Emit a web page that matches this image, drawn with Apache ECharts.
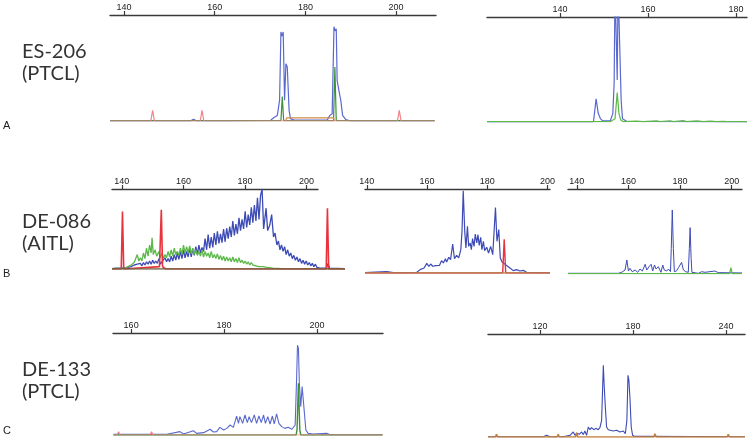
<!DOCTYPE html>
<html>
<head>
<meta charset="utf-8">
<title>GeneScan profiles</title>
<script src="https://cdn.jsdelivr.net/npm/echarts@6/dist/echarts.min.js"></script>
<style>
  html, body { margin: 0; padding: 0; background: #fff; }
  #chart { width: 750px; height: 440px; }
</style>
</head>
<body>
<div id="chart"></div>
<script>
// --- tick labels (bp) ---
const aLeftTicks = [140, 160, 180, 200];
const aRightTicks = [140, 160, 180];
const bLeftTicks = [140, 160, 180, 200];
const bMidTicks = [140, 160, 180, 200];
const bRightTicks = [140, 160, 180, 200];
const cLeftTicks = [160, 180, 200];
const cRightTicks = [120, 180, 240];

// --- traces: [size in bp, relative fluorescence 0-100] ---
// A  ES-206 (PTCL)
const aLeftBlue = [[136.9,0],[154.6,0],[155.3,1.6],[156.1,0],[162.2,0],[162.6,0.6],[163,0],[172.3,0.6],[173.0,3.1],[173.8,5.3],[174.3,19.5],[174.6,84],[174.85,80],[175.1,84],[175.4,19.5],[175.7,54],[176.0,51],[176.4,10],[176.7,2.2],[177.5,0.8],[184.8,0.8],[185.4,5.3],[185.9,6.9],[186.3,89],[186.55,85],[186.8,87],[187.0,38],[187.5,26],[187.8,19.5],[188.2,5.3],[188.9,1.3],[190.0,0],[208.5,0]];
const aLeftGreen = [[136.9,0.3],[174.6,0.3],[174.9,23],[175.2,0.3],[186.2,0.3],[186.5,51],[186.8,0.3],[208.5,0.3]];
const aLeftRed = [[136.9,0],[145.9,0],[146.3,10],[146.7,0],[156.8,0],[157.2,10],[157.6,0],[200.3,0],[200.7,10],[201.1,0],[208.5,0]];
const aLeftOrange = [[175.6,0],[175.9,3],[186.2,3],[186.4,0]];
const aRightBlue = [[123.4,0],[147.6,0],[147.7,1.6],[148.2,22],[148.7,8],[149.2,3],[149.8,1],[151.4,1],[152.0,8],[152.3,37],[152.5,130],[152.7,130],[153.0,40],[153.2,130],[153.6,130],[153.9,20],[154.2,3],[155.2,0.5],[182.5,0]];
const aRightGreen = [[123.4,0.3],[151.4,0.3],[151.7,1.5],[152.5,3],[153.0,28],[153.4,8],[153.8,2],[154.4,0.3],[157.4,0.8],[158.9,0.3],[162.0,1],[162.7,0.3],[165.0,1.2],[165.8,0.3],[168.0,1.3],[168.8,0.3],[171.1,1],[172.6,0.3],[174.1,0.9],[175.6,0.3],[177.1,0.6],[177.9,0.3],[182.5,0.3]];

// B  DE-086 (AITL)
const bLeftBlue = [[136.8,0.5],[138,1],[140,1],[142,2],[143,3],[143.5,2],[144,5],[144.5,3],[145,6],[145.5,4],[146,7],[146.5,4],[147,8],[147.5,5],[148,9],[148.5,6],[149,10],[149.5,6],[150,11],[150.5,7],[151,10],[151.5,7],[152,13],[152.5,6],[153,9],[153.5,7],[154,14],[154.5,9],[155,13],[155.5,9],[156,16],[156.5,10],[157,18],[157.5,11],[158,20],[158.5,12],[159,22],[159.5,13],[160,24],[160.5,14],[161,22],[161.5,15],[162,26],[162.5,15],[163,25],[163.5,17],[164,28],[164.5,18],[165,30],[165.5,20],[166,27],[166.5,22],[167,38],[167.5,24],[168,43],[168.5,26],[169,40],[169.5,27],[170,45],[170.5,30],[171,47],[171.5,32],[172,44],[172.5,33],[173,50],[173.5,34],[174,51],[174.5,38],[175,53],[175.5,40],[176,60],[176.5,42],[177,56],[177.5,44],[178,64],[178.5,48],[179,62],[179.5,50],[180,72],[180.5,52],[181,68],[181.5,55],[182,77],[182.5,58],[183,80],[183.5,60],[184,89],[184.5,62],[185,92],[185.5,100],[186,50],[186.8,76],[187.3,48],[188,55],[188.6,68],[189.2,40],[189.7,45],[190.3,30],[190.8,35],[191.3,24],[191.8,30],[192.3,22],[192.8,28],[193.3,18],[193.8,24],[194.3,16],[194.8,20],[195.3,13],[195.8,17],[196.3,11],[196.8,15],[197.3,9],[197.8,13],[198.3,7],[198.8,11],[199.3,6],[199.8,10],[200.3,5],[200.8,8],[201.3,4],[201.8,7],[202.3,3],[202.8,6],[203.3,2],[203.8,3],[204.3,1],[206.4,1],[206.9,7],[207.4,1],[212.4,0.5]];
const bLeftGreen = [[136.8,0.5],[141,1],[142,3],[142.5,2],[143,5],[143.5,4],[144,8],[144.5,6],[145,18],[145.5,10],[146,14],[146.5,10],[147,20],[147.5,13],[148,26],[148.5,16],[149,30],[149.5,20],[149.8,39],[150.2,18],[150.8,24],[151.3,16],[152,22],[152.5,14],[153,20],[153.5,13],[154,18],[154.5,14],[155,22],[155.5,15],[156,24],[156.5,16],[157,26],[157.5,18],[158,22],[158.5,17],[159,26],[159.5,18],[160,30],[160.5,20],[161,28],[161.5,20],[162,29],[162.5,19],[163,26],[163.5,18],[164,24],[164.5,17],[165,22],[165.5,16],[166,24],[166.5,15],[167,22],[167.5,16],[168,20],[168.5,14],[169,22],[169.5,14],[170,18],[170.5,13],[171,19],[171.5,12],[172,17],[172.5,11],[173,16],[173.5,10],[174,15],[174.5,10],[175,14],[175.5,9],[176,15],[176.5,9],[177,13],[177.5,8],[178,14],[178.5,8],[179,11],[179.5,7],[180,10],[180.5,6],[181,9],[181.5,5],[182,8],[182.5,5],[183,7],[183.5,4],[184,6],[184.5,3],[185,5],[186,3],[187,2],[189,1],[192,0.5],[212.4,0.5]];
const bLeftRed = [[136.8,0],[139.8,0],[140.2,72],[140.6,0],[152.2,3],[152.8,74],[153.2,3],[153.6,5],[154.2,0],[206.3,0],[206.7,76],[207.1,0],[212.4,0]];
const bLeftBase = [[136.8,0],[212.4,0]];
const bMidBlue = [[139.4,0.4],[141.1,0.8],[146.6,1.6],[148.8,0.4],[156.6,0.8],[157.7,4],[159.0,6],[159.9,11.5],[160.6,8],[161.2,10.7],[161.9,8],[162.8,8.7],[163.4,10.7],[164.1,9],[164.8,14.7],[165.4,12],[166.1,17],[166.5,13],[167.2,18.7],[167.8,16],[168.5,34.5],[169.1,17],[169.8,21],[170.5,17.9],[171.2,27.8],[171.6,49.6],[172.0,98],[172.5,49.6],[172.9,29.8],[173.4,55.6],[173.8,31.7],[174.3,35.7],[174.7,27.8],[175.1,40.9],[175.6,31.7],[176.0,46.4],[176.5,35.7],[176.9,45.6],[177.3,32.9],[177.8,42.5],[178.2,27.8],[178.7,37.7],[179.1,26.6],[179.8,30.6],[180.4,23.8],[181.1,31.7],[181.8,21.8],[182.7,78],[183.2,37.7],[183.8,51.6],[184.3,17.9],[184.9,13],[185.5,10.7],[186.4,9],[187.5,6],[188.6,2.8],[189.7,4],[190.8,2.4],[191.9,3.2],[193.0,0.8],[200.8,0.4]];
const bMidRed = [[139.4,0],[185.1,0],[185.6,40],[186.1,0],[200.8,0]];
const bMidBase = [[139.4,0],[200.8,0]];
const bRightBlue = [[136.6,0.8],[156.1,0.8],[157.4,2],[158.7,4.7],[159.4,16.5],[160.0,3.5],[160.6,6.7],[161.5,2.7],[162.6,4.7],[163.6,2],[164.5,5.9],[165.4,3.5],[166.5,11.4],[167.1,4.7],[168.0,8.6],[168.8,11.4],[169.4,3.5],[170.1,10.6],[170.7,5.9],[171.6,8.6],[172.6,2],[173.3,10.6],[173.9,4.7],[174.8,3.5],[175.5,5.9],[176.3,2.7],[176.6,30],[177.0,75.3],[177.4,30],[177.8,2.7],[178.6,3.5],[179.4,7.5],[180.0,5.9],[180.6,13.7],[181.3,4.7],[182.2,2.7],[183.2,2],[183.6,30],[183.9,54.5],[184.3,18],[184.6,2],[187.1,0.8],[188.4,2.7],[189.7,2],[193.5,3.5],[194.8,1.6],[204.0,1.2]];
const bRightGreen = [[136.6,0.5],[192.5,0.5],[192.9,2],[193.3,0.5],[199.2,0.5],[199.7,7.5],[200.2,0.5],[204.0,0.5]];

// C  DE-133 (PTCL)
const cLeftBlue = [[156.2,0.7],[167.7,0.7],[170.5,3.3],[171.3,1],[173.4,4.2],[174.1,1.6],[175.6,2.3],[177.0,5.6],[177.7,2.9],[178.4,3.3],[179.1,7.5],[179.9,4.9],[180.6,6.5],[181.3,9.8],[182.0,7.5],[182.7,18.6],[183.1,11.4],[183.4,18],[184.0,11.4],[184.5,19.6],[185.0,12.1],[185.4,18],[185.9,12.1],[186.5,19.6],[187.0,11.4],[187.5,18.6],[188.0,12.1],[188.5,19.6],[188.9,11.4],[189.4,18],[189.9,10.8],[190.4,18.6],[190.8,10.8],[191.3,20.6],[191.8,11.4],[192.4,8.2],[193.1,6.5],[193.8,7.5],[194.6,5.6],[195.3,9.8],[195.6,54],[195.8,88],[196.0,85],[196.2,50.7],[196.5,27.8],[196.8,47.4],[197.0,49],[197.3,21],[197.6,4.9],[198.1,1.6],[199.2,1],[202.1,1.6],[202.8,0.3],[214.1,0.3]];
const cLeftGreen = [[156.2,0],[195.5,0],[195.7,5],[196.0,50.7],[196.3,5],[196.5,0],[214.1,0]];
const cLeftRed = [[156.2,0],[157.0,0],[157.3,3.3],[157.6,0],[164.1,0],[164.4,3.3],[164.7,0],[214.1,0]];
const cRightBlue = [[86.5,0.3],[122.2,0.3],[124.3,1.6],[126.5,0.3],[135.1,0.3],[137.2,1],[139.4,1.6],[141.5,4.9],[142.6,1.6],[143.7,3.9],[145.4,2.6],[146.9,4.9],[148.0,2.3],[149.0,5.8],[150.1,1.6],[151.2,9.7],[152.3,7.1],[153.3,9.1],[154.8,7.1],[156.1,8.4],[157.6,7.1],[158.7,9.1],[159.8,16.2],[160.4,45],[160.9,69.6],[161.5,48.5],[162.2,29],[163.0,9.7],[164.1,7.1],[165.2,8.1],[167.3,5.8],[169.5,6.5],[171.6,4.9],[173.8,5.8],[175.1,3.2],[176.1,16.2],[176.8,59.9],[177.4,55],[178.1,37.2],[178.9,9.7],[179.8,1.6],[181.3,0.6],[186.7,0.6],[252.3,0.3]];
const cRightOrange = [[86.5,0],[91.3,0],[92.0,2.6],[92.7,0],[131.1,0],[131.8,2.6],[132.5,0],[143.0,0],[143.7,4],[144.4,0],[193.5,0],[194.2,3.2],[194.9,0],[240.8,0],[241.5,2.6],[242.2,0],[252.3,0]];

// dye colours
const BLUE = '#3d4bb5', BLUE_A = '#5a69cf', GREEN = '#5cb848', GREEN_DK = '#3f8f3a',
      RED = '#e8323c', PINK = '#f0848a', ORANGE = '#d08a48', BROWN = '#6e6040';

const panels = [
  { left: 110, top: 15, width: 326, height: 106, min: 136.9, max: 208.8, ticks: aLeftTicks,
    traces: [[aLeftBlue, BLUE_A, 1.2], [aLeftGreen, GREEN_DK, 1.2], [aLeftOrange, ORANGE, 1.2], [aLeftRed, PINK, 1.2]] },
  { left: 487, top: 17, width: 260, height: 105, min: 123.4, max: 182.5, ticks: aRightTicks,
    traces: [[aRightBlue, BLUE_A, 1.2], [aRightGreen, GREEN, 1.2]] },
  // B left: data run past the end of its drawn axis
  { left: 112, top: 189, width: 233, height: 80, min: 136.8, max: 212.4, ticks: null,
    traces: [[bLeftBlue, BLUE, 1.3], [bLeftGreen, GREEN, 1.3], [bLeftRed, RED, 1.6], [bLeftBase, BROWN, 1.6]] },
  { left: 112, top: 189, width: 206, height: 80, min: 136.8, max: 203.7, ticks: bLeftTicks, traces: [] },
  { left: 365, top: 189, width: 185, height: 84, min: 139.4, max: 200.8, ticks: bMidTicks,
    traces: [[bMidBlue, BLUE, 1.2], [bMidRed, RED, 1.4], [bMidBase, '#b48250', 1.6]] },
  { left: 568, top: 189, width: 174, height: 85, min: 136.6, max: 204.0, ticks: bRightTicks,
    traces: [[bRightBlue, BLUE, 1], [bRightGreen, GREEN, 1.2]] },
  { left: 113, top: 333, width: 270, height: 102, min: 156.1, max: 214.2, ticks: cLeftTicks,
    traces: [[cLeftBlue, BLUE_A, 1.1], [cLeftGreen, GREEN_DK, 1.4], [cLeftRed, PINK, 1.2]] },
  { left: 488, top: 334, width: 257, height: 103, min: 86.5, max: 252.3, ticks: cRightTicks,
    traces: [[cRightBlue, BLUE, 1.1], [cRightOrange, '#c4803c', 1.6]] }
];

const grids = [], xAxes = [], yAxes = [], series = [];
panels.forEach((p, i) => {
  grids.push({ left: p.left, top: p.top, width: p.width, height: p.height });
  xAxes.push({
    type: 'value', gridIndex: i, position: 'top', min: p.min, max: p.max,
    show: p.ticks != null,
    axisLine: { onZero: false, lineStyle: { color: '#3a3a3a', width: 1.4 } },
    axisTick: { show: true, customValues: p.ticks || [], length: 4, lineStyle: { color: '#3a3a3a', width: 1.2 } },
    axisLabel: { customValues: p.ticks || [], fontSize: 9, color: '#222', margin: 3, fontFamily: 'Liberation Sans' },
    splitLine: { show: false }
  });
  yAxes.push({ type: 'value', gridIndex: i, min: 0, max: 100, show: false });
  p.traces.forEach(t => {
    series.push({
      type: 'line', xAxisIndex: i, yAxisIndex: i, data: t[0],
      symbol: 'none', clip: true, silent: true,
      lineStyle: { color: t[1], width: t[2] }, itemStyle: { color: t[1] }
    });
  });
});

const label = (text, left, top, size) => ({
  type: 'text', left: left, top: top,
  style: { text: text, font: size + 'px Lato', fill: '#333', lineHeight: size + 2 }
});
const letter = (text, top) => ({
  type: 'text', left: 3, top: top,
  style: { text: text, font: '11px "Liberation Sans"', fill: '#222' }
});

const myChart = echarts.init(document.getElementById('chart'));
myChart.setOption({
  animation: false,
  grid: grids,
  xAxis: xAxes,
  yAxis: yAxes,
  series: series,
  graphic: [
    label('ES-206\n(PTCL)', 22, 41, 20),
    label('DE-086\n(AITL)', 22, 211, 20),
    label('DE-133\n(PTCL)', 22, 359, 20),
    letter('A', 120), letter('B', 268), letter('C', 425)
  ]
});
</script>
</body>
</html>
